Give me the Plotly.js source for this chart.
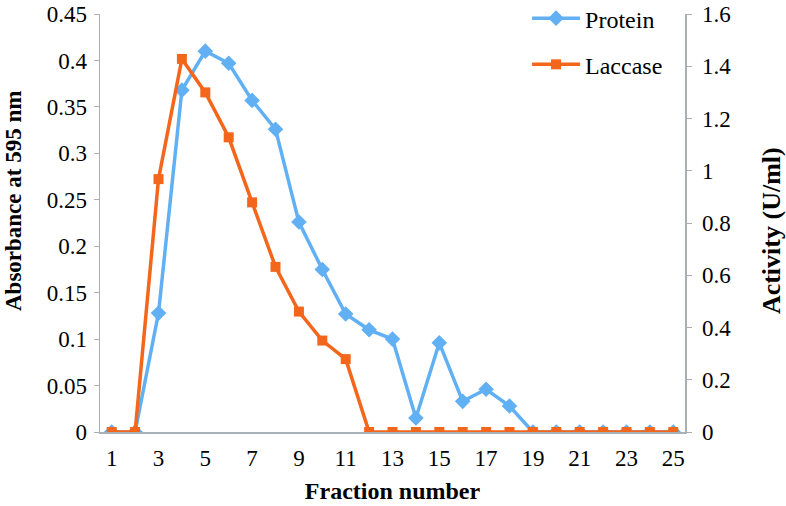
<!DOCTYPE html>
<html>
<head>
<meta charset="utf-8">
<script src="https://cdn.plot.ly/plotly-3.0.1.min.js"></script>
<style>html,body{margin:0;padding:0;background:#fff;}#chart{width:786px;height:506px;}</style>
</head>
<body>
<div id="chart"></div>
<script>
var fractions = [1,2,3,4,5,6,7,8,9,10,11,12,13,14,15,16,17,18,19,20,21,22,23,24,25];
var protein = [0,0,0.128,0.368,0.410,0.397,0.357,0.326,0.226,0.175,0.127,0.110,0.100,0.015,0.096,0.033,0.046,0.028,0,0,0,0,0,0,0];
var laccase = [0,0,0.968,1.428,1.300,1.128,0.879,0.632,0.461,0.350,0.279,0,0,0,0,0,0,0,0,0,0,0,0,0,0];
var xTicks = [1,3,5,7,9,11,13,15,17,19,21,23,25];
var leftTitle = 'Absorbance at 595 nm';
var rightTitle = 'Activity (U/ml)';
var xTitle = 'Fraction number';

var font = 'Liberation Serif';
var axisColor = '#a9b0b6';

var traces = [
  {x: fractions, y: protein, name: 'Protein', type: 'scatter', mode: 'lines+markers',
   legendgroup: 'p',
   line: {color: '#62b0f4', width: 3.5}, marker: {symbol: 'diamond', size: 12, color: '#62b0f4'}, yaxis: 'y'},
  {x: fractions, y: laccase, name: 'Laccase', type: 'scatter', mode: 'lines+markers',
   legendgroup: 'l',
   line: {color: '#f4661c', width: 3.5}, marker: {symbol: 'square', size: 10, color: '#f4661c'}, yaxis: 'y2'}
];

var layout = {
  width: 786, height: 506,
  margin: {l: 100, r: 101, t: 14, b: 74, autoexpand: false},
  paper_bgcolor: '#fff', plot_bgcolor: '#fff',
  font: {family: font, size: 23, color: '#000'},
  showlegend: true,
  legend: {x: 0.73, y: 1.043, xanchor: 'left', yanchor: 'top', bgcolor: 'rgba(0,0,0,0)',
           font: {family: font, size: 24}, traceorder: 'grouped', tracegroupgap: 12, itemwidth: 48},
  xaxis: {range: [0.5, 25.5], tickvals: xTicks, ticktext: xTicks.map(String),
          showgrid: false, zeroline: false, showline: true, linecolor: axisColor, linewidth: 1.5,
          ticks: '', tickfont: {family: font, size: 23}, ticklabelstandoff: 5,
          title: {text: '<b>' + xTitle + '</b>', font: {family: font, size: 24}, standoff: 12}},
  yaxis: {range: [0, 0.45], dtick: 0.05, tick0: 0, showgrid: false, zeroline: false,
          showline: true, linecolor: axisColor, linewidth: 1.5,
          ticks: 'outside', ticklen: 5, tickcolor: axisColor, ticklabelstandoff: 2,
          tickfont: {family: font, size: 23}},
  yaxis2: {range: [0, 1.6], dtick: 0.2, tick0: 0, overlaying: 'y', side: 'right',
           showgrid: false, zeroline: false, showline: true, linecolor: axisColor, linewidth: 1.5,
           ticks: 'outside', ticklen: 5, tickcolor: axisColor, ticklabelstandoff: 6,
           tickfont: {family: font, size: 23}},
  annotations: [
    {text: '<b>' + leftTitle + '</b>', xref: 'paper', yref: 'paper', x: -0.1487, y: 0.5526,
     xanchor: 'center', yanchor: 'middle', textangle: -90, showarrow: false,
     font: {family: font, size: 23, color: '#000'}},
    {text: '<b>' + rightTitle + '</b>', xref: 'paper', yref: 'paper', x: 1.147, y: 0.483,
     xanchor: 'center', yanchor: 'middle', textangle: -90, showarrow: false,
     font: {family: font, size: 26, color: '#000'}}
  ]
};

Plotly.newPlot('chart', traces, layout, {displayModeBar: false, staticPlot: true});
</script>
</body>
</html>
